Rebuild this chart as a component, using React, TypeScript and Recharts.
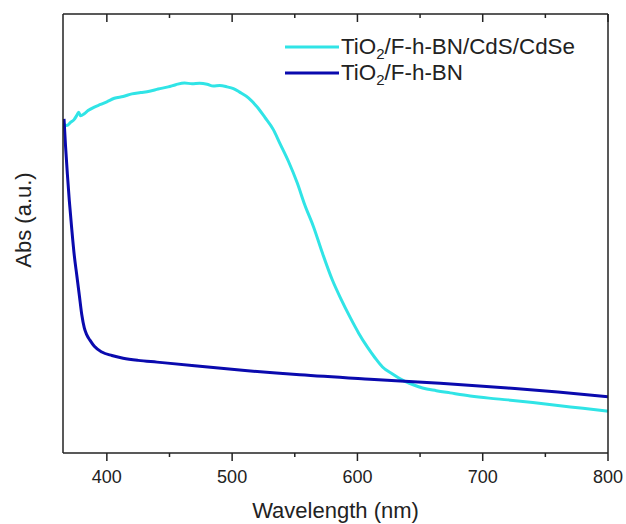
import React from 'react';
import { LineChart, Line, XAxis, YAxis } from 'recharts';

const xTicks = [400, 450, 500, 550, 600, 650, 700, 750, 800];

const cdseWavelength = [366, 368, 371, 374, 376, 377.5, 379, 382, 385, 390, 395, 400, 406, 413, 420, 427, 434, 441, 449, 455, 462, 468, 474, 480, 485, 490, 496, 501, 506, 513, 520, 526, 533, 538, 545, 552, 558, 565, 572, 580, 587, 594, 601, 608, 614, 620, 628, 636, 644, 652, 663, 674, 690, 705, 720, 740, 760, 780, 800];
const cdseAbs = [74.8, 74.6, 75.3, 76.0, 76.9, 77.6, 76.8, 77.3, 78.0, 78.8, 79.4, 80.0, 80.8, 81.2, 81.8, 82.1, 82.4, 82.9, 83.4, 83.9, 84.3, 84.1, 84.2, 84.0, 83.6, 83.7, 83.4, 83.0, 82.2, 80.9, 78.8, 76.5, 73.6, 70.6, 66.4, 61.5, 56.5, 51.5, 45.6, 39.4, 35.0, 31.0, 27.3, 24.1, 21.7, 19.6, 18.0, 16.6, 15.6, 14.8, 14.2, 13.7, 13.0, 12.5, 12.1, 11.5, 10.8, 10.2, 9.5];

const bnWavelength = [365.8, 367, 368.5, 370, 372, 374, 376, 378, 380, 382, 384, 386.5, 390, 396, 404, 413, 425, 440, 470, 506, 554, 610, 666, 720, 760, 800];
const bnAbs = [76.1, 70.0, 63.5, 57.6, 51.0, 45.0, 40.5, 36.0, 31.5, 28.5, 26.9, 25.7, 24.3, 23.0, 22.2, 21.6, 21.1, 20.7, 19.9, 18.9, 17.8, 16.8, 15.9, 14.8, 13.9, 12.8];

const legendNames = ['/F-h-BN/CdS/CdSe', '/F-h-BN'];

const cdseData = cdseWavelength.map((x, i) => ({ x, y: cdseAbs[i] }));
const bnData = bnWavelength.map((x, i) => ({ x, y: bnAbs[i] }));

const CYAN = '#30E4E6';
const BLUE = '#0A0AAE';
const AXIS = '#222';
const FONT = 'Liberation Sans, Arial, Helvetica, sans-serif';
const PLOT_TOP = 14;

const BottomTick = (props: any) => {
  const { x, y, payload } = props;
  const major = payload.value % 100 === 0;
  const len = major ? 8 : 4;
  return (
    <g>
      <line x1={x} x2={x} y1={y} y2={y + len} stroke={AXIS} strokeWidth={1.5} />
      <line x1={x} x2={x} y1={PLOT_TOP} y2={PLOT_TOP + len} stroke={AXIS} strokeWidth={1.5} />
      {major && (
        <text x={x} y={y + 30} textAnchor="middle" fontSize={18} fontFamily={FONT} fill="#222">
          {payload.value}
        </text>
      )}
    </g>
  );
};

const LegendBox = () => {
  const colors = [CYAN, BLUE];
  return (
    <div style={{ position: 'absolute', left: 285, top: 34, fontFamily: FONT }}>
      {legendNames.map((rest, i) => (
        <div key={i} style={{ display: 'flex', alignItems: 'center', height: 26 }}>
          <svg width={54} height={6} style={{ display: 'block' }}>
            <line x1={0} x2={54} y1={3} y2={3} stroke={colors[i]} strokeWidth={3} />
          </svg>
          <span style={{ marginLeft: 2, fontSize: 22.4, lineHeight: 1, color: '#222', whiteSpace: 'nowrap' }}>
            TiO<sub style={{ fontSize: 15, lineHeight: 0, verticalAlign: -5 }}>2</sub>
            {rest}
          </span>
        </div>
      ))}
    </div>
  );
};

export default function App() {
  return (
    <div style={{ position: 'absolute', left: 0, top: 0, width: 626, height: 524, background: '#fff' }}>
      <LineChart width={626} height={524} data={cdseData} margin={{ top: 0, right: 17, left: 0, bottom: 0 }}>
        <XAxis
          xAxisId="main"
          dataKey="x"
          type="number"
          domain={[365, 800]}
          ticks={xTicks}
          allowDataOverflow
          height={71}
          axisLine={{ stroke: AXIS, strokeWidth: 1.5 }}
          tickLine={false}
          tickSize={0}
          tickMargin={0}
          tick={<BottomTick />}
          interval={0}
          label={{
            content: (p: any) => {
              const vb = p.viewBox;
              return (
                <text x={vb.x + vb.width / 2} y={vb.y + 65} textAnchor="middle" fontSize={22} fontFamily={FONT} fill="#222">
                  Wavelength (nm)
                </text>
              );
            },
          }}
        />
        <XAxis
          xAxisId="top"
          orientation="top"
          dataKey="x"
          type="number"
          domain={[365, 800]}
          allowDataOverflow
          height={PLOT_TOP}
          axisLine={{ stroke: AXIS, strokeWidth: 1.5 }}
          tickLine={false}
          tick={false}
        />
        <YAxis
          yAxisId="main"
          type="number"
          domain={[0, 100]}
          allowDataOverflow
          width={63}
          tick={false}
          tickLine={false}
          axisLine={{ stroke: AXIS, strokeWidth: 1.5 }}
          label={{
            content: () => (
              <text
                x={31}
                y={220}
                transform="rotate(-90, 31, 220)"
                textAnchor="middle"
                fontSize={22}
                fontFamily={FONT}
                fill="#222"
              >
                Abs (a.u.)
              </text>
            ),
          }}
        />
        <YAxis
          yAxisId="right"
          orientation="right"
          type="number"
          domain={[0, 100]}
          width={1}
          tick={false}
          tickLine={false}
          axisLine={{ stroke: AXIS, strokeWidth: 1.5 }}
        />
        <Line
          xAxisId="main"
          yAxisId="main"
          data={cdseData}
          dataKey="y"
          type="monotone"
          stroke={CYAN}
          strokeWidth={3}
          dot={false}
          isAnimationActive={false}
        />
        <Line
          xAxisId="main"
          yAxisId="main"
          data={bnData}
          dataKey="y"
          type="monotone"
          stroke={BLUE}
          strokeWidth={3}
          dot={false}
          isAnimationActive={false}
        />
      </LineChart>
      <LegendBox />
    </div>
  );
}
